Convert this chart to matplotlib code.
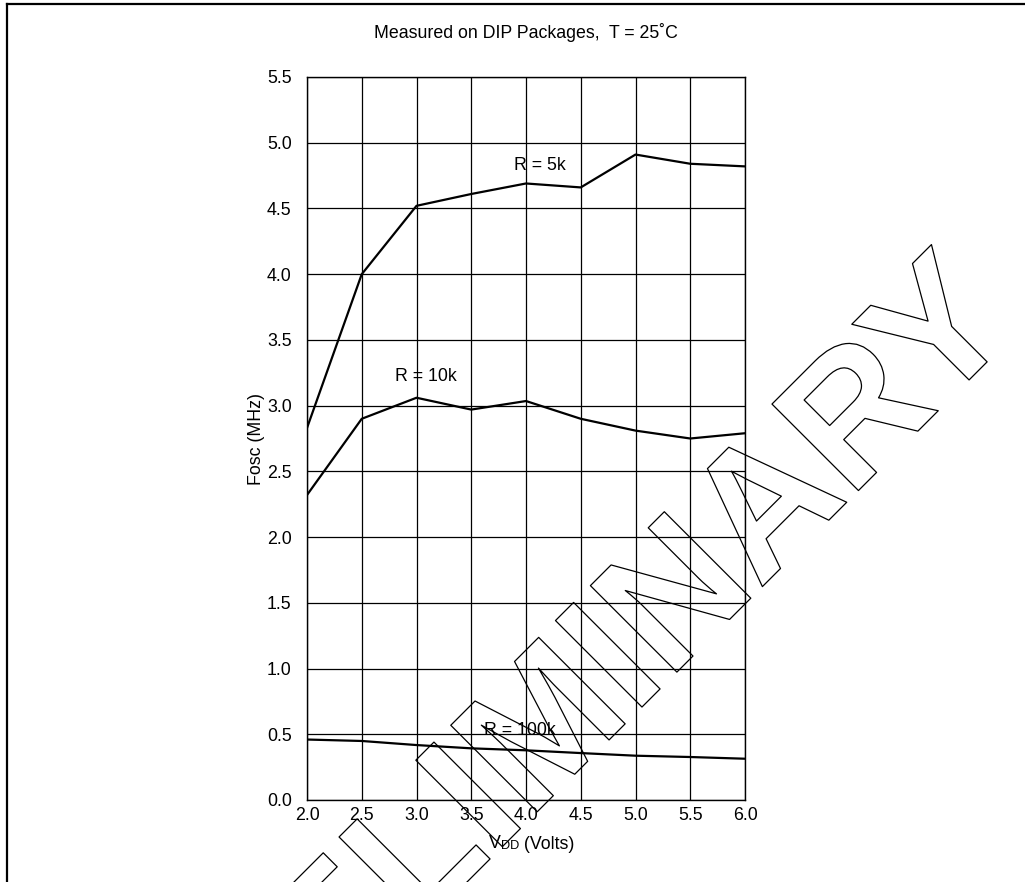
import matplotlib
matplotlib.use("Agg")
import matplotlib.pyplot as plt
import matplotlib.patheffects as pe
from matplotlib.lines import Line2D

plt.rcParams['font.family'] = ['Liberation Sans', 'DejaVu Sans']

vdd = [2.0, 2.5, 3.0, 3.5, 4.0, 4.5, 5.0, 5.5, 6.0]
r5k = [2.83, 4.00, 4.52, 4.61, 4.69, 4.66, 4.91, 4.84, 4.82]
r10k = [2.32, 2.90, 3.06, 2.97, 3.035, 2.90, 2.81, 2.75, 2.79]
r100k = [0.46, 0.449, 0.418, 0.393, 0.378, 0.357, 0.337, 0.327, 0.314]

series_labels = ["R = 5k", "R = 10k", "R = 100k"]
label_pos = [(4.13, 4.83), (3.09, 3.22), (3.94, 0.527)]

xticks = [2.0, 2.5, 3.0, 3.5, 4.0, 4.5, 5.0, 5.5, 6.0]
yticks = [0.0, 0.5, 1.0, 1.5, 2.0, 2.5, 3.0, 3.5, 4.0, 4.5, 5.0, 5.5]

title = "Measured on DIP Packages,  T = 25\u02daC"
watermark = "PRELIMINARY"

FS = 12.8
W, H = 1025, 882
fig = plt.figure(figsize=(W / 100, H / 100), dpi=100)
ax = fig.add_axes([307 / W, 1 - 800 / H, (745 - 307) / W, (800 - 77) / H])

for y in (r5k, r10k, r100k):
    ax.plot(vdd, y, color='black', lw=1.6, zorder=3)

ax.set_xlim(2.0, 6.0)
ax.set_ylim(0.0, 5.5)
ax.set_xticks(xticks)
ax.set_yticks(yticks)
ax.set_xticklabels([f"{v:.1f}" for v in xticks])
ax.set_yticklabels([f"{v:.1f}" for v in yticks])
ax.tick_params(length=0, labelsize=FS)
ax.tick_params(axis='x', pad=5)
ax.tick_params(axis='y', pad=11)
ax.grid(True, color='black', lw=0.9)
for s in ax.spines.values():
    s.set_linewidth(1.0)

for lab, (x, y) in zip(series_labels, label_pos):
    ax.text(x, y, lab, ha='center', va='center', fontsize=FS, zorder=4)

ax.set_ylabel("Fosc (MHz)", fontsize=FS)
ax.yaxis.set_label_coords(-0.097, 0.5)

# x label: V with DD small, then (Volts)
t1 = fig.text(489 / W, 1 - 848 / H, "V", fontsize=FS, ha='left', va='baseline')
t2 = ax.annotate("DD", xy=(1, 0), xycoords=t1, fontsize=9.2, ha='left', va='bottom')
t3 = ax.annotate(" (Volts)", xy=(1, 0), xycoords=t2, fontsize=FS, ha='left', va='bottom',
                 xytext=(0, -0.9), textcoords='offset points')

fig.text(526 / W, 1 - 32 / H, title, fontsize=FS, ha='center', va='center')

# border
fig.add_artist(Line2D([7 / W, 1.0], [1 - 4 / H, 1 - 4 / H], color='black', lw=1.6,
                      transform=fig.transFigure))
fig.add_artist(Line2D([7 / W, 7 / W], [0.0, 1 - 4 / H], color='black', lw=1.6,
                      transform=fig.transFigure))

# outlined watermark
fig.text(1020 / W, 1 - 329 / H, watermark, fontsize=128, fontweight='bold',
         rotation=45, rotation_mode='anchor', ha='right', va='baseline',
         color='none', zorder=10,
         path_effects=[pe.Stroke(linewidth=0.9, foreground='black')])

fig.savefig("out.png", dpi=100)
